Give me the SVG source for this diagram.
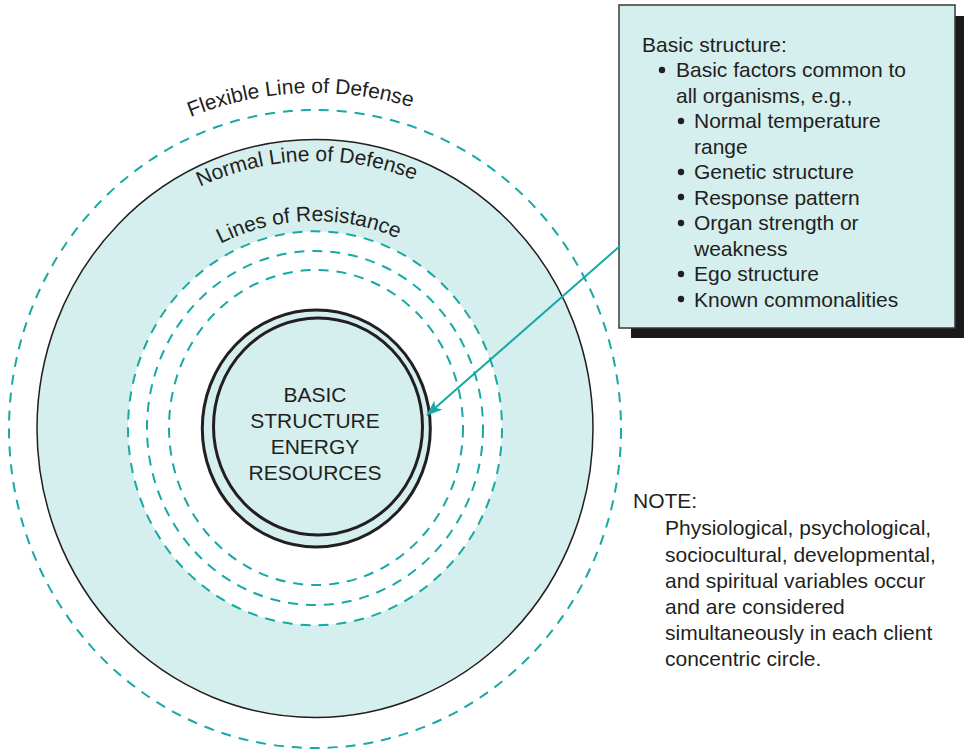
<svg xmlns="http://www.w3.org/2000/svg" width="964" height="751" viewBox="0 0 964 751">
<style>
text{font-family:"Liberation Sans",Arial,sans-serif;fill:#231f20;font-size:21px}
.dash{fill:none;stroke:#17a9a4;stroke-width:2;stroke-dasharray:10 8}
.solid{stroke:#231f20}
.cyan{fill:#d5eeee}
.mid{text-anchor:middle}
</style>
<defs>
<path id="arcFlex" d="M -20 428 A 335 335 0 0 1 650 428"/>
<path id="arcNormal" d="M 48 428 A 267 267 0 0 1 582 428"/>
<path id="arcRes" d="M 108 428 A 207 207 0 0 1 522 428"/>
<marker id="arrow" viewBox="0 0 16 12" refX="15" refY="6" markerWidth="16" markerHeight="12" markerUnits="userSpaceOnUse" orient="auto">
<path d="M0,0 L16,6 L0,12 L4,6 z" fill="#17a9a4"/>
</marker>
</defs>
<rect width="964" height="751" fill="#fff"/>
<g id="flexible-line">
<ellipse cx="315" cy="429" rx="306" ry="319" class="dash"/>
<text><textPath href="#arcFlex" startOffset="48.6%" class="mid">Flexible Line of Defense</textPath></text>
</g>
<g id="normal-line">
<ellipse cx="315" cy="428.5" rx="278" ry="289" class="cyan solid" stroke-width="1.5"/>
<text><textPath href="#arcNormal" startOffset="49%" class="mid">Normal Line of Defense</textPath></text>
</g>
<g id="lines-of-resistance">
<ellipse cx="315" cy="428.3" rx="187" ry="197" fill="#fff"/>
<ellipse cx="315" cy="428.3" rx="187" ry="197" class="dash"/>
<ellipse cx="315" cy="428" rx="168" ry="177" class="dash"/>
<ellipse cx="316" cy="427.5" rx="147" ry="157.5" class="dash"/>
<text><textPath href="#arcRes" startOffset="49%" class="mid">Lines of Resistance</textPath></text>
</g>
<g id="basic-structure">
<ellipse cx="316.3" cy="428.5" rx="114" ry="118.5" class="cyan solid" stroke-width="3"/>
<ellipse cx="318" cy="426.5" rx="104.5" ry="108.5" fill="none" class="solid" stroke-width="3"/>
<text x="315" y="402" class="mid">BASIC</text>
<text x="315" y="428" class="mid">STRUCTURE</text>
<text x="315" y="454" class="mid">ENERGY</text>
<text x="315" y="480" class="mid">RESOURCES</text>
</g>
<g id="basic-structure-box">
<rect x="631" y="16" width="333" height="322" fill="#1a1a1a"/>
<rect x="619" y="5" width="336" height="323" class="cyan" stroke="#3a3a3a" stroke-width="1.5"/>
<text x="642" y="52">Basic structure:</text>
<circle cx="662" cy="70" r="3.2" fill="#231f20"/>
<text x="676" y="77">Basic factors common to</text>
<text x="676" y="102.5">all organisms, e.g.,</text>
<circle cx="681" cy="121" r="3.2" fill="#231f20"/>
<text x="694" y="128">Normal temperature</text>
<text x="694" y="153.5">range</text>
<circle cx="681" cy="172" r="3.2" fill="#231f20"/>
<text x="694" y="179">Genetic structure</text>
<circle cx="681" cy="197" r="3.2" fill="#231f20"/>
<text x="694" y="204.5">Response pattern</text>
<circle cx="681" cy="223" r="3.2" fill="#231f20"/>
<text x="694" y="230">Organ strength or</text>
<text x="694" y="255.5">weakness</text>
<circle cx="681" cy="274" r="3.2" fill="#231f20"/>
<text x="694" y="281">Ego structure</text>
<circle cx="681" cy="299" r="3.2" fill="#231f20"/>
<text x="694" y="306.5">Known commonalities</text>
</g>
<g id="note">
<text x="633" y="508">NOTE:</text>
<text x="665" y="535">Physiological, psychological,</text>
<text x="665" y="561.5">sociocultural, developmental,</text>
<text x="665" y="588">and spiritual variables occur</text>
<text x="665" y="613.5">and are considered</text>
<text x="665" y="640">simultaneously in each client</text>
<text x="665" y="665.5">concentric circle.</text>
</g>
<g id="connectors">
<line x1="620" y1="246" x2="427" y2="415" stroke="#17a9a4" stroke-width="2" marker-end="url(#arrow)"/>
</g>
</svg>
